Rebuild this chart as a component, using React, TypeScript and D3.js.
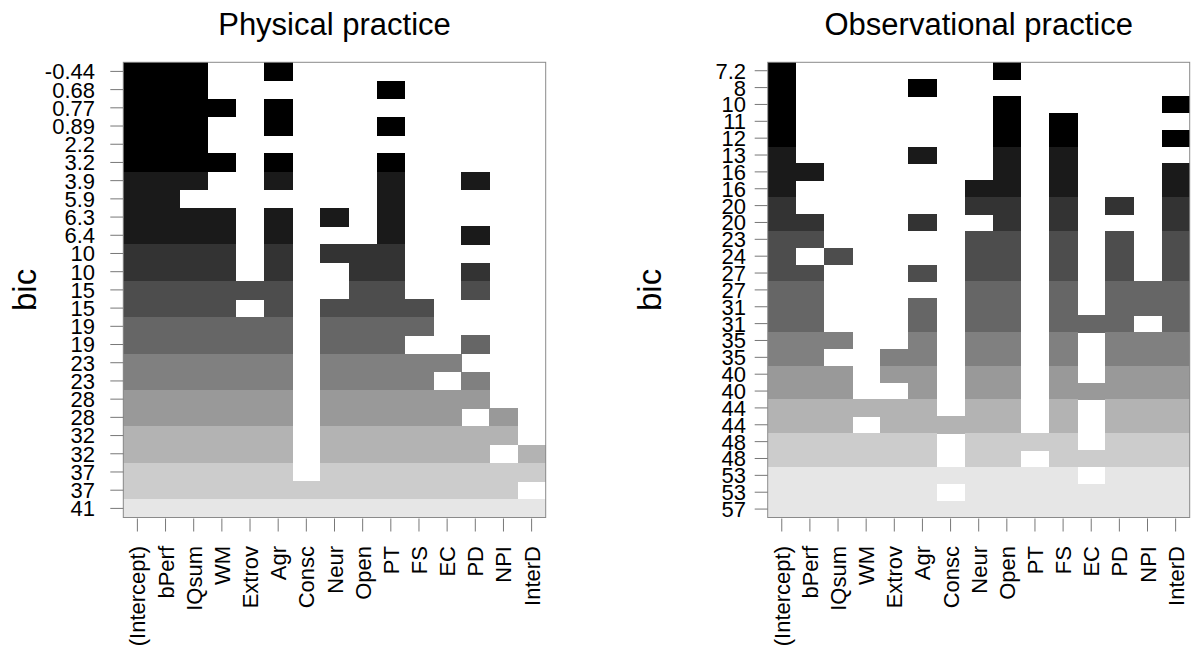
import React, { useEffect, useRef } from 'react';
import * as d3 from 'd3';

// predictors shown as columns, in the order of the x axis
const predictors = ['(Intercept)', 'bPerf', 'IQsum', 'WM', 'Extrov', 'Agr', 'Consc', 'Neur', 'Open', 'PT', 'FS', 'EC', 'PD', 'NPI', 'InterD'];

// Physical practice: bic label, grey level (0 = black .. 9 = lightest) and included predictors per row
const physBic = ['-0.44', '0.68', '0.77', '0.89', '2.2', '3.2', '3.9', '5.9', '6.3', '6.4', '10', '10', '15', '15', '19', '19', '23', '23', '28', '28', '32', '32', '37', '37', '41'];
const physShade = [0, 0, 0, 0, 0, 0, 1, 1, 1, 1, 2, 2, 3, 3, 4, 4, 5, 5, 6, 6, 7, 7, 8, 8, 9];
const physModels = [
  [0, 1, 2, 5],
  [0, 1, 2, 9],
  [0, 1, 2, 3, 5],
  [0, 1, 2, 5, 9],
  [0, 1, 2],
  [0, 1, 2, 3, 5, 9],
  [0, 1, 2, 5, 9, 12],
  [0, 1, 9],
  [0, 1, 2, 3, 5, 7, 9],
  [0, 1, 2, 3, 5, 9, 12],
  [0, 1, 2, 3, 5, 7, 8, 9],
  [0, 1, 2, 3, 5, 8, 9, 12],
  [0, 1, 2, 3, 4, 5, 8, 9, 12],
  [0, 1, 2, 3, 5, 7, 8, 9, 10],
  [0, 1, 2, 3, 4, 5, 7, 8, 9, 10],
  [0, 1, 2, 3, 4, 5, 7, 8, 9, 12],
  [0, 1, 2, 3, 4, 5, 7, 8, 9, 10, 11],
  [0, 1, 2, 3, 4, 5, 7, 8, 9, 10, 12],
  [0, 1, 2, 3, 4, 5, 7, 8, 9, 10, 11, 12],
  [0, 1, 2, 3, 4, 5, 7, 8, 9, 10, 11, 13],
  [0, 1, 2, 3, 4, 5, 7, 8, 9, 10, 11, 12, 13],
  [0, 1, 2, 3, 4, 5, 7, 8, 9, 10, 11, 12, 14],
  [0, 1, 2, 3, 4, 5, 7, 8, 9, 10, 11, 12, 13, 14],
  [0, 1, 2, 3, 4, 5, 6, 7, 8, 9, 10, 11, 12, 13],
  [0, 1, 2, 3, 4, 5, 6, 7, 8, 9, 10, 11, 12, 13, 14],
];

// Observational practice
const obsBic = ['7.2', '8', '10', '11', '12', '13', '16', '16', '20', '20', '23', '24', '27', '27', '31', '31', '35', '35', '40', '40', '44', '44', '48', '48', '53', '53', '57'];
const obsShade = [0, 0, 0, 0, 0, 1, 1, 1, 2, 2, 3, 3, 3, 4, 4, 4, 5, 5, 6, 6, 7, 7, 8, 8, 9, 9, 9];
const obsModels = [
  [0, 8],
  [0, 5],
  [0, 8, 14],
  [0, 8, 10],
  [0, 8, 10, 14],
  [0, 5, 8, 10],
  [0, 1, 8, 10, 14],
  [0, 7, 8, 10, 14],
  [0, 7, 8, 10, 12, 14],
  [0, 1, 5, 8, 10, 14],
  [0, 1, 7, 8, 10, 12, 14],
  [0, 2, 7, 8, 10, 12, 14],
  [0, 1, 5, 7, 8, 10, 12, 14],
  [0, 1, 7, 8, 10, 12, 13, 14],
  [0, 1, 5, 7, 8, 10, 12, 13, 14],
  [0, 1, 5, 7, 8, 10, 11, 12, 14],
  [0, 1, 2, 5, 7, 8, 10, 12, 13, 14],
  [0, 1, 4, 5, 7, 8, 10, 12, 13, 14],
  [0, 1, 2, 4, 5, 7, 8, 10, 12, 13, 14],
  [0, 1, 2, 5, 7, 8, 10, 11, 12, 13, 14],
  [0, 1, 2, 3, 4, 5, 7, 8, 10, 12, 13, 14],
  [0, 1, 2, 4, 5, 6, 7, 8, 10, 12, 13, 14],
  [0, 1, 2, 3, 4, 5, 7, 8, 9, 10, 12, 13, 14],
  [0, 1, 2, 3, 4, 5, 7, 8, 10, 11, 12, 13, 14],
  [0, 1, 2, 3, 4, 5, 6, 7, 8, 9, 10, 12, 13, 14],
  [0, 1, 2, 3, 4, 5, 7, 8, 9, 10, 11, 12, 13, 14],
  [0, 1, 2, 3, 4, 5, 6, 7, 8, 9, 10, 11, 12, 13, 14],
];

const FONT = '"Liberation Sans", Arial, sans-serif';
const TOP = 62.3;
const BOTTOM = 517.5;

const drawPanel = (svg, opts) => {
  const { title, bic, shade, models, left, right, labelX, ylabX } = opts;
  const g = svg.append('g');

  const x = d3.scaleBand().domain(d3.range(predictors.length)).range([left, right]);
  const y = d3.scaleBand().domain(d3.range(bic.length)).range([TOP, BOTTOM]);
  const grey = (k) => d3.rgb(255 * 0.1 * k, 255 * 0.1 * k, 255 * 0.1 * k).toString();

  // one cell per included predictor
  const cells = [];
  models.forEach((m, r) => m.forEach((c) => cells.push({ r, c })));
  g.selectAll('rect.cell')
    .data(cells)
    .enter()
    .append('rect')
    .attr('x', (d) => x(d.c))
    .attr('y', (d) => y(d.r))
    .attr('width', x.bandwidth() + 0.5)
    .attr('height', y.bandwidth() + 0.5)
    .attr('shape-rendering', 'crispEdges')
    .attr('fill', (d) => grey(shade[d.r]));

  // frame
  g.append('rect')
    .attr('x', left)
    .attr('y', TOP)
    .attr('width', right - left)
    .attr('height', BOTTOM - TOP)
    .attr('fill', 'none')
    .attr('stroke', '#8a8a8a')
    .attr('stroke-width', 1);

  // y ticks + labels
  const yt = g.selectAll('g.ytick').data(bic).enter().append('g');
  yt.append('line')
    .attr('x1', left - 13)
    .attr('x2', left)
    .attr('y1', (d, i) => y(i) + y.bandwidth() / 2)
    .attr('y2', (d, i) => y(i) + y.bandwidth() / 2)
    .attr('stroke', '#777');
  yt.append('text')
    .text((d) => d)
    .attr('x', labelX)
    .attr('y', (d, i) => y(i) + y.bandwidth() / 2)
    .attr('dy', '0.36em')
    .attr('text-anchor', 'end')
    .attr('font-family', FONT)
    .attr('font-size', '22px');

  // x ticks + rotated labels
  const xt = g.selectAll('g.xtick').data(predictors).enter().append('g');
  xt.append('line')
    .attr('x1', (d, i) => x(i) + x.bandwidth() / 2)
    .attr('x2', (d, i) => x(i) + x.bandwidth() / 2)
    .attr('y1', BOTTOM + 1)
    .attr('y2', BOTTOM + 14)
    .attr('stroke', '#777');
  xt.append('text')
    .text((d) => d)
    .attr('transform', (d, i) => 'translate(' + (x(i) + x.bandwidth() / 2 + 8) + ',' + 546 + ') rotate(-90)')
    .attr('text-anchor', 'end')
    .attr('font-family', FONT)
    .attr('font-size', '22px');

  // title and axis label
  g.append('text')
    .text(title)
    .attr('x', (left + right) / 2)
    .attr('y', 35)
    .attr('text-anchor', 'middle')
    .attr('font-family', FONT)
    .attr('font-size', '31px');
  g.append('text')
    .text('bic')
    .attr('transform', 'translate(' + ylabX + ',' + (TOP + BOTTOM) / 2 + ') rotate(-90)')
    .attr('text-anchor', 'middle')
    .attr('font-family', FONT)
    .attr('font-size', '33px');
};

export default function App() {
  const ref = useRef(null);

  useEffect(() => {
    const svg = d3.select(ref.current);
    svg.selectAll('*').remove();
    drawPanel(svg, {
      title: 'Physical practice',
      bic: physBic,
      shade: physShade,
      models: physModels,
      left: 123.3,
      right: 545.7,
      labelX: 95,
      ylabX: 36,
    });
    drawPanel(svg, {
      title: 'Observational practice',
      bic: obsBic,
      shade: obsShade,
      models: obsModels,
      left: 767.7,
      right: 1189.7,
      labelX: 746,
      ylabX: 661,
    });
  }, []);

  return (
    <svg
      ref={ref}
      width={1200}
      height={653}
      style={{ position: 'absolute', left: 0, top: 0, background: '#fff' }}
    />
  );
}
